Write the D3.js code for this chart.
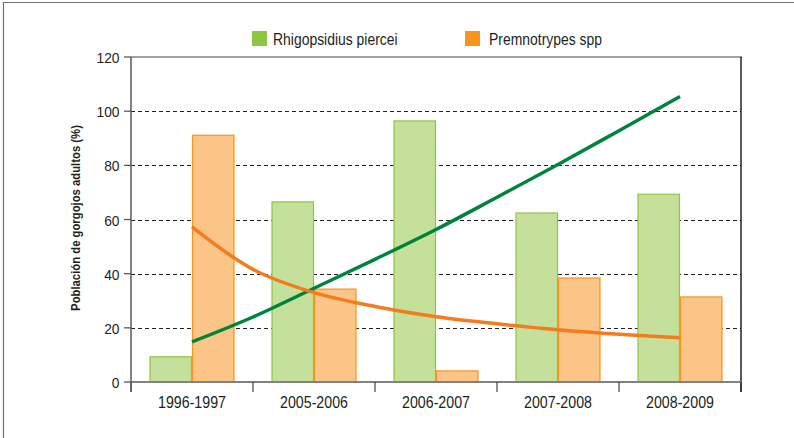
<!DOCTYPE html>
<html>
<head>
<meta charset="utf-8">
<script src="https://cdn.jsdelivr.net/npm/d3@7"></script>
<style>
  html, body { margin: 0; padding: 0; background: #fff; }
  svg text { font-family: "Liberation Sans", Arial, sans-serif; fill: #231f20; }
</style>
</head>
<body>
<svg id="chart" width="794" height="438"></svg>
<script>
// ---- data ----
const categories = ['1996-1997', '2005-2006', '2006-2007', '2007-2008', '2008-2009'];
const seriesNames = ['Rhigopsidius piercei', 'Premnotrypes spp'];
const rhigopsidius = [9.3, 66.5, 96.4, 62.4, 69.3];
const premnotrypes = [91.1, 34.3, 4.1, 38.4, 31.4];
// trend curves, sampled every half category (position 0 = first category centre)
const trendPos = [0, 0.5, 1, 1.5, 2, 2.5, 3, 3.5, 4];
const trendRhigo = [14.8, 24.0, 34.6, 45.3, 56.3, 68.2, 80.3, 92.8, 105.4];
const trendPremno = [57.3, 41.6, 33.0, 27.9, 24.1, 21.5, 19.3, 17.6, 16.3];
const yTicks = [0, 20, 40, 60, 80, 100, 120];

const colors = {
  greenFill: '#c5e09b', greenStroke: '#8dc63f',
  orangeFill: '#fbc587', orangeStroke: '#f7941d',
  greenLine: '#00843d', orangeLine: '#f47b20'
};

const svg = d3.select('#chart');
const m = { l: 131, r: 741, t: 57, b: 382 };

// condensed look: Liberation Sans squeezed horizontally
function label(parent, x, y, txt, opts) {
  const o = Object.assign({ size: 16, sx: 0.85, anchor: 'start', weight: 'normal', rot: 0 }, opts);
  return parent.append('text')
    .attr('transform', `translate(${x},${y}) rotate(${o.rot}) scale(${o.sx},1)`)
    .attr('text-anchor', o.anchor).attr('font-size', o.size).attr('font-weight', o.weight)
    .text(txt);
}

// outer frame (only top and left edges show)
svg.append('path')
  .attr('d', `M3.5,438 V2.5 H794`)
  .attr('fill', 'none').attr('stroke', '#6d6e71').attr('stroke-width', 1.2);

const x = d3.scaleBand().domain(categories).range([m.l, m.r]).paddingInner(0).paddingOuter(0);
const xs = d3.scaleBand().domain(seriesNames).range([0, x.bandwidth()]).paddingInner(0).paddingOuter(0.435);
const y = d3.scaleLinear().domain([0, 120]).range([m.b, m.t]);

// gridlines
svg.append('g').selectAll('line')
  .data(yTicks.filter(d => d > 0 && d < 120))
  .join('line')
    .attr('x1', m.l).attr('x2', m.r)
    .attr('y1', d => Math.round(y(d)) + 0.5).attr('y2', d => Math.round(y(d)) + 0.5)
    .attr('stroke', '#231f20').attr('stroke-width', 1).attr('stroke-dasharray', '4,3');

// top edge of plot (grey) and right edge (black)
svg.append('line').attr('x1', m.l).attr('x2', m.r + 1)
  .attr('y1', y(120)).attr('y2', y(120)).attr('stroke', '#808285').attr('stroke-width', 1.5);
svg.append('line').attr('x1', m.r).attr('x2', m.r)
  .attr('y1', y(120)).attr('y2', m.b + 10).attr('stroke', '#000').attr('stroke-width', 1.3);

// bars
const rows = categories.map((c, i) => ({ cat: c, vals: [rhigopsidius[i], premnotrypes[i]] }));
const groups = svg.append('g').selectAll('g').data(rows).join('g')
  .attr('transform', d => `translate(${x(d.cat)},0)`);
groups.selectAll('rect')
  .data(d => d.vals.map((v, j) => ({ s: seriesNames[j], v, j })))
  .join('rect')
    .attr('x', d => xs(d.s) + 0.5)
    .attr('y', d => y(d.v))
    .attr('width', xs.bandwidth() - 1)
    .attr('height', d => y(0) - y(d.v))
    .attr('fill', d => d.j === 0 ? colors.greenFill : colors.orangeFill)
    .attr('stroke', d => d.j === 0 ? colors.greenStroke : colors.orangeStroke)
    .attr('stroke-width', 1.2);

// trend curves
const tx = p => x(categories[0]) + x.bandwidth() / 2 + p * x.step();
const line = d3.line().x(d => tx(d[0])).y(d => y(d[1])).curve(d3.curveCatmullRom);
svg.append('path').datum(trendPos.map((p, i) => [p, trendRhigo[i]]))
  .attr('d', line).attr('fill', 'none').attr('stroke', colors.greenLine).attr('stroke-width', 3.5);
svg.append('path').datum(trendPos.map((p, i) => [p, trendPremno[i]]))
  .attr('d', line).attr('fill', 'none').attr('stroke', colors.orangeLine).attr('stroke-width', 3.5);

// x axis
svg.append('line').attr('x1', m.l).attr('x2', m.r)
  .attr('y1', m.b).attr('y2', m.b).attr('stroke', '#808285').attr('stroke-width', 2);
const xTickPos = categories.map(c => x(c)).concat([m.r]);
svg.append('g').selectAll('line').data(xTickPos).join('line')
  .attr('x1', d => d).attr('x2', d => d)
  .attr('y1', m.b).attr('y2', m.b + 10)
  .attr('stroke', '#231f20').attr('stroke-width', 1);
const xl = svg.append('g');
categories.forEach(c => label(xl, x(c) + x.bandwidth() / 2, 408, c, { size: 16.5, sx: 0.86, anchor: 'middle' }));

// y axis
svg.append('line').attr('x1', m.l).attr('x2', m.l)
  .attr('y1', y(120)).attr('y2', m.b + 10).attr('stroke', '#58595b').attr('stroke-width', 1.5);
svg.append('g').selectAll('line').data(yTicks).join('line')
  .attr('x1', m.l - 7).attr('x2', m.l)
  .attr('y1', d => y(d)).attr('y2', d => y(d))
  .attr('stroke', '#58595b').attr('stroke-width', 1.3);
const yl = svg.append('g');
yTicks.forEach(t => label(yl, 119.5, y(t) + 6, t, { size: 15, sx: 0.92, anchor: 'end' }));

label(svg, 80, 218, 'Población de gorgojos adultos (%)',
  { size: 13, sx: 0.87, anchor: 'middle', weight: 'bold', rot: -90 });

// legend
const legend = [
  { name: seriesNames[0], color: colors.greenStroke, x: 252, tx: 273 },
  { name: seriesNames[1], color: colors.orangeStroke, x: 465, tx: 489 }
];
const lg = svg.append('g');
legend.forEach(d => {
  lg.append('rect').attr('x', d.x).attr('y', 31).attr('width', 15).attr('height', 15).attr('fill', d.color);
  label(lg, d.tx, 45, d.name, { size: 17, sx: 0.82 });
});
</script>
</body>
</html>
